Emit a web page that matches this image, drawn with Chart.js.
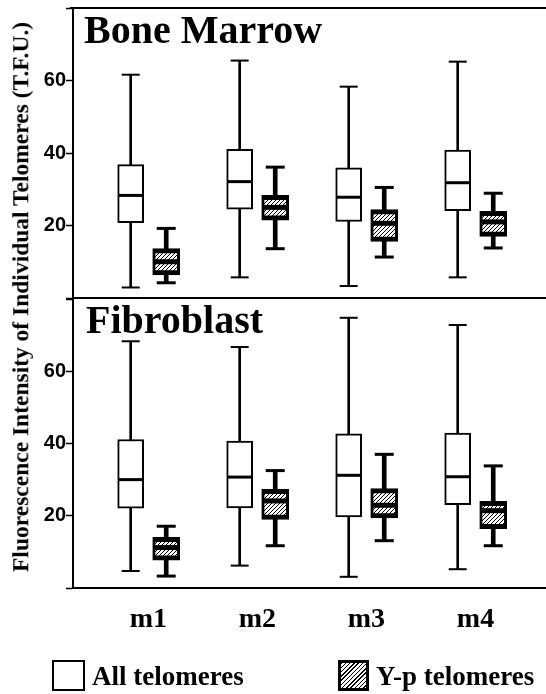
<!DOCTYPE html>
<html>
<head>
<meta charset="utf-8">
<script src="https://cdn.jsdelivr.net/npm/chart.js@4.4.1/dist/chart.umd.min.js"></script>
<style>
    html, body { margin: 0; padding: 0; background: #fff; }
    #wrap { position: relative; width: 546px; height: 694px; overflow: hidden;
        font-family: "Liberation Serif", "Times New Roman", serif; font-weight: bold; color: #000; }
    .cv { position: absolute; left: 0; width: 546px; }
    #topBox { top: 0; height: 300px; }
    #botBox { top: 299px; height: 395px; }
    .ytitle { position: absolute; left: 21px; top: 297px; transform: translate(-50%, -50%) rotate(-90deg);
        white-space: nowrap; font-size: 23.5px; line-height: 1; }
    .panel { position: absolute; font-size: 40px; line-height: 40px; white-space: nowrap; }
    .leg-box { position: absolute; box-sizing: border-box; }
    .leg-txt { position: absolute; font-size: 27px; line-height: 27px; white-space: nowrap; }
</style>
</head>
<body>
<div id="wrap">
    <div class="cv" id="topBox"><canvas id="topChart" width="546" height="300"></canvas></div>
    <div class="cv" id="botBox"><canvas id="botChart" width="546" height="395"></canvas></div>
    <div class="ytitle">Fluorescence Intensity of Individual Telomeres (T.F.U.)</div>
    <div class="panel" style="left:84px;top:10px;">Bone Marrow</div>
    <div class="panel" style="left:86px;top:300px;">Fibroblast</div>
    <div class="leg-box" style="left:52px;top:660px;width:33px;height:31px;border:2px solid #000;background:#fff;"></div>
    <div class="leg-txt" style="left:92px;top:663px;">All telomeres</div>
    <div class="leg-box" style="left:338px;top:660px;width:31px;height:31px;border:3px solid #000;background:repeating-linear-gradient(135deg,#000 0 1px,#fff 1px 3px);"></div>
    <div class="leg-txt" style="left:376px;top:663px;">Y-p telomeres</div>
</div>
<script>
/* global Chart */
const CATEGORIES = ['m1', 'm2', 'm3', 'm4'];
const Y_TICKS = [20, 40, 60];

// each entry: [min, Q1, median, Q3, max]
const BONE_ALL = [[2.9, 20.8, 28.3, 36.8, 61.6], [5.7, 24.5, 32.1, 41.0, 65.5], [3.3, 21.1, 27.8, 35.9, 58.3], [5.7, 24.1, 31.8, 40.8, 65.2]];
const BONE_YP = [[4.2, 6.4, 10.0, 13.6, 19.2], [13.6, 21.5, 25.0, 28.3, 36.1], [11.3, 15.6, 20.6, 24.4, 30.5], [13.8, 17.0, 21.0, 23.9, 28.9]];
const FIB_ALL = [[4.7, 22.1, 30.0, 41.1, 68.3], [6.2, 22.2, 30.7, 40.7, 66.7], [3.1, 19.7, 31.2, 42.7, 74.8], [5.2, 23.1, 30.8, 42.9, 72.8]];
const FIB_YP = [[3.3, 7.7, 11.2, 14.0, 17.1], [11.7, 19.0, 24.1, 27.3, 32.5], [13.1, 19.4, 22.9, 27.5, 37.0], [11.7, 16.4, 21.4, 24.0, 33.8]];

const SHIFT = 0.163; // half gap between the paired boxes, in category units

function hatchPattern(ctx) {
    const c = document.createElement('canvas');
    c.width = 4; c.height = 4;
    const g = c.getContext('2d');
    g.fillStyle = '#fff';
    g.fillRect(0, 0, 4, 4);
    g.strokeStyle = '#000';
    g.lineWidth = 1;
    g.beginPath();
    g.moveTo(0, 4); g.lineTo(4, 0);
    g.moveTo(-1, 1); g.lineTo(1, -1);
    g.moveTo(3, 5); g.lineTo(5, 3);
    g.stroke();
    return ctx.createPattern(c, 'repeat');
}

function boxDatasets(stats, shift, look) {
    const xs = stats.map((_, i) => i + 1 + shift);
    return [
        { type: 'bar', data: stats.map((s, i) => ({ x: xs[i], y: [s[0], s[4]] })),
          backgroundColor: '#000', borderWidth: 0, barThickness: look.whisker, grouped: false, order: 4 },
        { type: 'bar', data: stats.map((s, i) => ({ x: xs[i], y: [s[1], s[3]] })),
          backgroundColor: look.fill, borderColor: '#000', borderWidth: look.border, borderSkipped: false,
          barThickness: look.width, grouped: false, order: 3 },
        { type: 'line', showLine: false, data: stats.map((s, i) => ({ x: xs[i], y: s[2] })),
          pointStyle: 'line', pointRadius: look.width / 2 - 1, borderColor: '#000', pointBorderWidth: look.median, order: 1 },
        { type: 'line', showLine: false, data: stats.flatMap((s, i) => [{ x: xs[i], y: s[0] }, { x: xs[i], y: s[4] }]),
          pointStyle: 'line', pointRadius: look.cap, borderColor: '#000', pointBorderWidth: look.capWidth, order: 2 },
    ];
}

function makeChart(id, allStats, ypStats, isBottom) {
    const canvas = document.getElementById(id);
    const ctx = canvas.getContext('2d');
    const white = { fill: '#fff', border: 2, width: 26, whisker: 2, median: 3, cap: 9, capWidth: 2 };
    const hatched = {
        fill: hatchPattern(ctx), border: { left: 3, right: 3, top: 5, bottom: 5 },
        width: 27, whisker: 4, median: 5, cap: 9.5, capWidth: 3,
    };

    // closing line along the top of the upper panel
    const topRule = {
        id: 'topRule',
        afterDraw(chart) {
            if (isBottom) return;
            const a = chart.chartArea;
            chart.ctx.save();
            chart.ctx.strokeStyle = '#000';
            chart.ctx.lineWidth = 2;
            chart.ctx.beginPath();
            chart.ctx.moveTo(a.left - 3, a.top);
            chart.ctx.lineTo(a.right, a.top);
            chart.ctx.stroke();
            chart.ctx.restore();
        },
    };

    return new Chart(ctx, {
        type: 'bar',
        data: { datasets: [...boxDatasets(allStats, -SHIFT, white), ...boxDatasets(ypStats, SHIFT, hatched)] },
        plugins: [topRule],
        options: {
            responsive: false,
            animation: false,
            events: [],
            layout: {
                autoPadding: false,
                padding: isBottom ? { top: 0, bottom: 0, left: 0, right: 0 } : { top: 8, bottom: 2, left: 0, right: 0 },
            },
            plugins: { legend: { display: false }, tooltip: { enabled: false } },
            scales: {
                x: {
                    type: 'linear', min: 0.308, max: 4.647, offset: false,
                    grid: { display: true, offset: false, drawOnChartArea: false, drawTicks: false },
                    border: { display: true, color: '#000', width: 2 },
                    afterBuildTicks: (s) => { s.ticks = CATEGORIES.map((c, i) => ({ value: i + 1 })); },
                    afterFit: (s) => {
                        s.height = isBottom ? 106 : 0;
                        s.paddingLeft = 0;
                        s.paddingRight = 0;
                    },
                    ticks: {
                        display: isBottom, padding: 15, color: '#000', maxRotation: 0,
                        font: { family: 'Liberation Serif', weight: 'bold', size: 28 },
                        callback: (v) => CATEGORIES[Math.round(v) - 1] || '',
                    },
                },
                y: {
                    min: 0, max: 80,
                    grid: { drawOnChartArea: false, drawTicks: true, tickLength: 7, tickColor: '#000', tickWidth: 1.5 },
                    border: { display: true, color: '#000', width: 2 },
                    afterFit: (s) => {
                        s.width = 73;
                        s.paddingTop = 0;
                        s.paddingBottom = 0;
                    },
                    ticks: {
                        stepSize: 20, padding: 0, color: '#000',
                        font: { family: 'Liberation Sans', weight: 'bold', size: 20 },
                        callback: (v) => (Y_TICKS.includes(v) ? String(v) : ''),
                    },
                },
            },
        },
    });
}

makeChart('topChart', BONE_ALL, BONE_YP, false);
makeChart('botChart', FIB_ALL, FIB_YP, true);
</script>
</body>
</html>
